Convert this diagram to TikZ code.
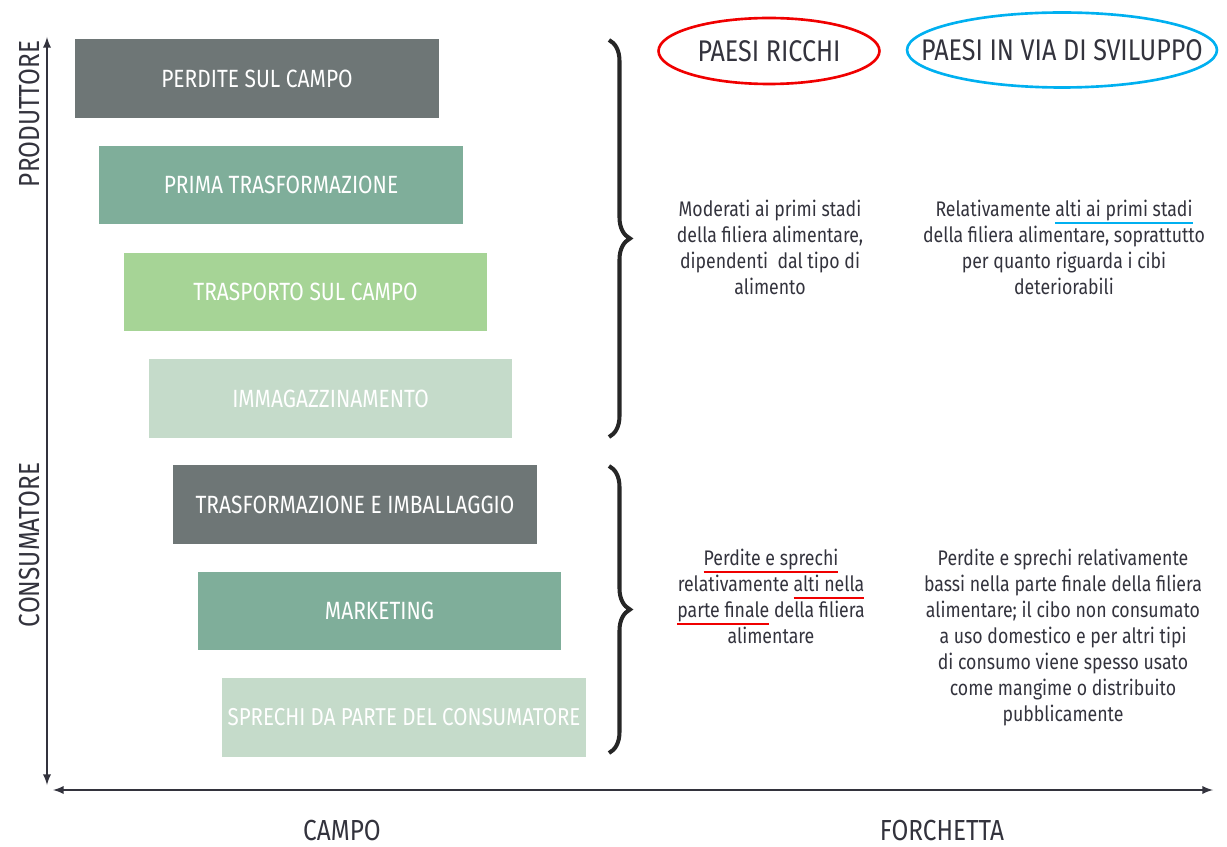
\documentclass[tikz,border=0pt]{standalone}
\usepackage{fontspec}
\setmainfont[FakeStretch=0.84]{Fira Sans}
\usepackage{tikz}
\usetikzlibrary{shapes.geometric, positioning, arrows, decorations.pathreplacing}

\definecolor{grigio}{HTML}{6E7676}
\definecolor{verdeacqua}{HTML}{7FAE9A}
\definecolor{verdechiaro}{HTML}{A6D496}
\definecolor{verdepallido}{HTML}{C5DBCA}
\definecolor{testo}{HTML}{33333D}
\definecolor{rosso}{HTML}{F00000}
\definecolor{azzurro}{HTML}{00B0F0}

% underline in colour
\newcommand{\sottolinea}[2]{\setbox0\hbox{#2}\rlap{\color{#1}\rule[-4.2pt]{\wd0}{1.3pt}}\box0\relax}

\begin{document}
\begin{tikzpicture}[x=0.02cm, y=-0.02cm,
    stadio/.style={rectangle, minimum width=7.28cm, minimum height=1.58cm, inner sep=0pt,
        text=white, font=\fontsize{14.2}{16}\selectfont},
    asse/.style={latex-latex, line width=1.1pt, draw=testo},
    etichetta/.style={text=testo, inner sep=1pt, font=\fontsize{16.5}{18}\selectfont},
    paese/.style={ellipse, line width=1.5pt, inner sep=0pt},
    titolo/.style={text=testo, font=\fontsize{17}{19}\selectfont},
    nota/.style={align=center, text=testo, font=\fontsize{12}{14.8}\selectfont},
    graffa/.style={decorate, decoration={brace, amplitude=0.42cm}, line width=2.3pt, draw=black!85}]
    \useasboundingbox (0,0) rectangle (1227,847);

    % stadi della filiera
    \node[stadio, fill=grigio] (perdite) at (257,78.5) {PERDITE SUL CAMPO};
    \node[stadio, fill=verdeacqua] (primatr) at (281,185) {PRIMA TRASFORMAZIONE};
    \node[stadio, fill=verdechiaro] (trasporto) at (305.5,292) {TRASPORTO SUL CAMPO};
    \node[stadio, fill=verdepallido] (immag) at (330.5,398.5) {IMMAGAZZINAMENTO};
    \node[stadio, fill=grigio] (imball) at (355,504.5) {TRASFORMAZIONE E IMBALLAGGIO};
    \node[stadio, fill=verdeacqua] (marketing) at (379.5,611) {MARKETING};
    \node[stadio, fill=verdepallido, font=\fontsize{13.9}{16}\selectfont] (sprechi) at (404,717.5) {SPRECHI DA PARTE DEL CONSUMATORE};

    % assi
    \coordinate (alto) at (47,37);
    \coordinate (basso) at (47,785);
    \coordinate (sx) at (53,790);
    \coordinate (dx) at (1213,790);
    \draw[asse] (basso) -- (alto);
    \draw[asse] (sx) -- (dx);

    \node[etichetta, rotate=90] (produttore) at (30,114) {PRODUTTORE};
    \node[etichetta, rotate=90] (consumatore) at (30,545) {CONSUMATORE};
    \node[etichetta] (campo) at (342,831) {CAMPO};
    \node[etichetta] (forchetta) at (942,831) {FORCHETTA};

    % graffe
    \coordinate (g1a) at (609,40);
    \coordinate (g1b) at (609,437);
    \coordinate (g2a) at (609,466);
    \coordinate (g2b) at (609,753);
    \draw[graffa] (g1a) -- (g1b);
    \draw[graffa] (g2a) -- (g2b);

    % intestazioni
    \node[paese, draw=rosso, minimum width=4.42cm, minimum height=1.32cm] (ricchi) at (769,51) {};
    \node[titolo] at (ricchi) {PAESI RICCHI};
    \node[paese, draw=azzurro, minimum width=6.2cm, minimum height=1.5cm] (sviluppo) at (1062,50) {};
    \node[titolo] at (sviluppo) {PAESI IN VIA DI SVILUPPO};

    % commenti
    \node[nota, anchor=north] (ricchi1) at (770,194) {Moderati ai primi stadi\\della filiera alimentare,\\dipendenti \ dal tipo di\\alimento};
    \node[nota, anchor=north] (sviluppo1) at (1064,194) {Relativamente \sottolinea{azzurro}{alti ai primi stadi}\\della filiera alimentare, soprattutto\\per quanto riguarda i cibi\\deteriorabili};
    \node[nota, anchor=north] (ricchi2) at (771,543) {\sottolinea{rosso}{Perdite e sprechi}\\relativamente \sottolinea{rosso}{alti nella}\\\sottolinea{rosso}{parte finale} della filiera\\alimentare};
    \node[nota, anchor=north] (sviluppo2) at (1063,543) {Perdite e sprechi relativamente\\bassi nella parte finale della filiera\\alimentare; il cibo non consumato\\a uso domestico e per altri tipi\\di consumo viene spesso usato\\come mangime o distribuito\\pubblicamente};
\end{tikzpicture}
\end{document}
